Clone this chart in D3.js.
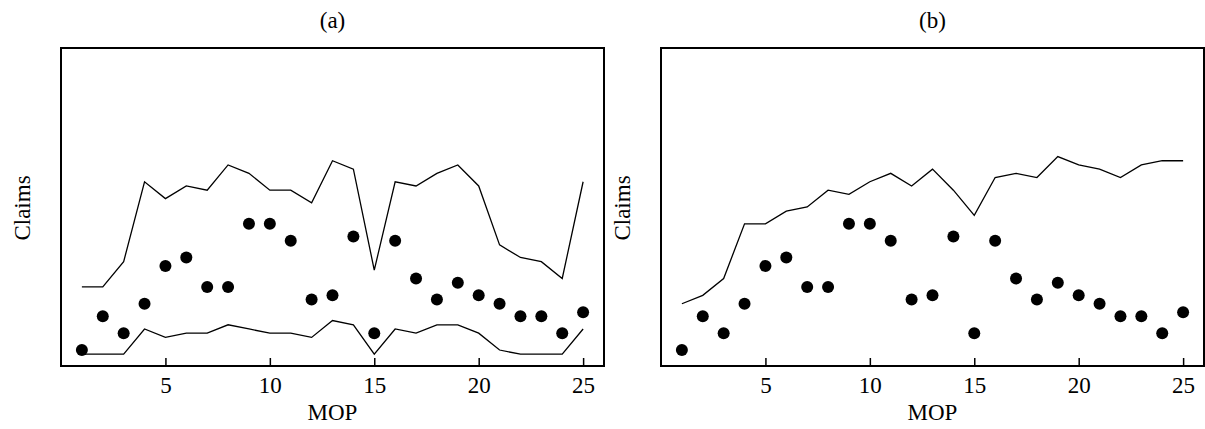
<!DOCTYPE html>
<html>
<head>
<meta charset="utf-8">
<script src="https://d3js.org/d3.v7.min.js"></script>
<style>
    body { margin: 0; background: #fff; }
    svg { display: block; }
    text { font-family: "Liberation Serif", "Times New Roman", serif; fill: #000; }
</style>
</head>
<body>
<svg id="chart" width="1205" height="429"></svg>
<script>
// month of payment (x) and observed claims (dots), same in both panels
var mop = [1, 2, 3, 4, 5, 6, 7, 8, 9, 10, 11, 12, 13, 14, 15, 16, 17, 18, 19, 20, 21, 22, 23, 24, 25];
var claims = [1, 9, 5, 12, 21, 23, 16, 16, 31, 31, 27, 13, 14, 28, 5, 27, 18, 13, 17, 14, 12, 9, 9, 5, 10];

// panel (a): upper and lower band
var upperA = [16, 16, 22, 41, 37, 40, 39, 45, 43, 39, 39, 36, 46, 44, 20, 41, 40, 43, 45, 40, 26, 23, 22, 18, 41];
var lowerA = [0, 0, 0, 6, 4, 5, 5, 7, 6, 5, 5, 4, 8, 7, 0, 6, 5, 7, 7, 5, 1, 0, 0, 0, 6];

// panel (b): upper line only
var upperB = [12, 14, 18, 31, 31, 34, 35, 39, 38, 41, 43, 40, 44, 39, 33, 42, 43, 42, 47, 45, 44, 42, 45, 46, 46];

var xTicks = [5, 10, 15, 20, 25];

var fontSize = "23px";
var svg = d3.select("#chart");

function drawPanel(left, right, title, lines) {
    var top = 48, bottom = 366;

    var x = d3.scaleLinear().domain([0, 26]).range([left, right]);
    var y = d3.scaleLinear().domain([-2.8, 72.8]).range([bottom, top]);

    var g = svg.append("g");

    // lines first so the dots sit on top
    var lineGen = d3.line()
        .x(function (d, i) { return x(mop[i]); })
        .y(function (d) { return y(d); });

    lines.forEach(function (vals) {
        g.append("path")
            .attr("d", lineGen(vals))
            .attr("fill", "none")
            .attr("stroke", "#000")
            .attr("stroke-width", 1.3);
    });

    g.selectAll("circle")
        .data(claims)
        .enter()
        .append("circle")
        .attr("cx", function (d, i) { return x(mop[i]); })
        .attr("cy", function (d) { return y(d); })
        .attr("r", 6)
        .style("fill", "#000");

    // x axis, ticks point inward
    var axis = g.append("g")
        .attr("transform", "translate(0," + bottom + ")")
        .call(d3.axisBottom(x).tickValues(xTicks).tickSize(-8).tickPadding(11));
    axis.select(".domain").remove();
    axis.selectAll(".tick line").attr("stroke", "#000").attr("stroke-width", 1.5);
    axis.selectAll(".tick text")
        .style("font-size", fontSize)
        .style("font-family", "'Liberation Serif', serif")
        .attr("fill", "#000");

    // box
    g.append("rect")
        .attr("x", left)
        .attr("y", top)
        .attr("width", right - left)
        .attr("height", bottom - top)
        .attr("fill", "none")
        .attr("stroke", "#000")
        .attr("stroke-width", 2);

    g.append("text")
        .attr("x", (left + right) / 2)
        .attr("y", 28)
        .attr("text-anchor", "middle")
        .style("font-size", fontSize)
        .text(title);

    g.append("text")
        .attr("x", (left + right) / 2)
        .attr("y", 420)
        .attr("text-anchor", "middle")
        .style("font-size", fontSize)
        .text("MOP");

    g.append("text")
        .attr("transform", "translate(" + (left - 31) + "," + ((top + bottom) / 2 + 1) + ") rotate(-90)")
        .attr("text-anchor", "middle")
        .style("font-size", fontSize)
        .text("Claims");
}

drawPanel(61, 604, "(a)", [upperA, lowerA]);
drawPanel(661, 1204, "(b)", [upperB]);
</script>
</body>
</html>
